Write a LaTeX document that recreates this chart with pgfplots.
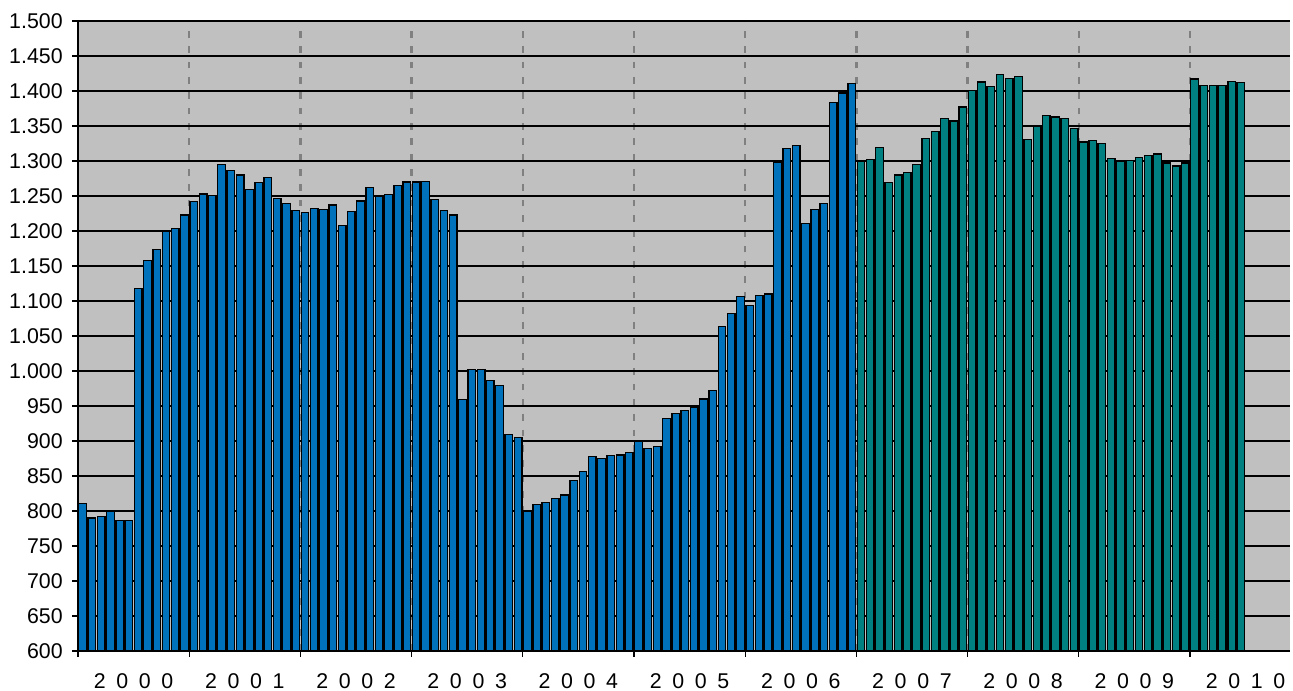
\documentclass[border=0pt]{standalone}
\usepackage{fontspec}
\setmainfont{Liberation Sans}
\usepackage{pgfplots}
\usepackage{pgfplotstable}
\pgfplotsset{compat=1.18}

\definecolor{barblue}{RGB}{0,114,188}
\definecolor{barteal}{RGB}{0,128,128}
\definecolor{plotgray}{RGB}{192,192,192}
\definecolor{dashgray}{RGB}{128,128,128}

% monthly values, Jan 2000 - Dec 2006
\pgfplotstableread{
v
811
790
792
799
786
786
1118
1158
1174
1199
1204
1223
1242
1253
1251
1295
1286
1280
1259
1269
1276
1246
1239
1229
1226
1232
1231
1237
1208
1228
1243
1262
1250
1252
1265
1270
1270
1271
1245
1229
1223
959
1002
1002
986
979
909
905
799
809
812
818
823
844
856
878
875
879
880
884
900
889
892
932
939
944
948
960
972
1064
1082
1106
1094
1108
1110
1298
1318
1322
1211
1231
1239
1384
1397
1411
}\firstpart

% monthly values, Jan 2007 - Jun 2010
\pgfplotstableread{
v
1300
1302
1319
1269
1280
1284
1295
1332
1342
1361
1357
1377
1401
1413
1406
1424
1418
1421
1331
1349
1365
1363
1361
1346
1327
1329
1325
1304
1300
1301
1305
1308
1310
1297
1293
1297
1417
1408
1408
1408
1414
1412
}\secondpart

\newcommand{\yr}[4]{#1\hspace{0.5em}#2\hspace{0.5em}#3\hspace{0.5em}#4}

\begin{document}
\begin{tikzpicture}
\begin{axis}[
    scale only axis,
    width=909pt, height=472.5pt,
    xmin=0, xmax=130.8,
    ymin=600, ymax=1500,
    enlargelimits=false,
    axis background/.style={fill=plotgray},
    ytick={600,650,...,1500},
    xtick={0,12,...,120},
    xticklabels={},
    extra x ticks={6,18,...,126},
    extra x tick labels={\yr2000,\yr2001,\yr2002,\yr2003,\yr2004,\yr2005,\yr2006,\yr2007,\yr2008,\yr2009,\yr2010},
    extra x tick style={major tick length=0pt, grid=none,
        tick label style={yshift=-13.5pt}},
    tick align=outside,
    major tick length=4.5pt,
    tick style={black, line width=0.9pt},
    xmajorgrids, ymajorgrids,
    x grid style={dashgray, line width=1.8pt, dash pattern=on 5pt off 6.5pt},
    y grid style={black, line width=1.2pt},
    axis line style={black, line width=0.9pt},
    axis x line*=bottom, axis y line*=left,
    scaled y ticks=false,
    /pgf/number format/.cd, 1000 sep={.}, assume math mode=true,
    /pgfplots/.cd,
    tick label style={font=\fontsize{16}{18}\selectfont},
    yticklabel style={xshift=-3.5pt},
]
\addplot[ybar, bar width=0.82, bar shift=0pt, fill=barblue, draw=black, line width=1pt]
    table[x expr=\coordindex+0.5, y=v] {\firstpart};
\addplot[ybar, bar width=0.82, bar shift=0pt, fill=barteal, draw=black, line width=1pt]
    table[x expr=\coordindex+84.5, y=v] {\secondpart};
\end{axis}
\pgfresetboundingbox
\path (-58.5pt,-30pt) rectangle (911.25pt,488.25pt);
\end{tikzpicture}
\end{document}
